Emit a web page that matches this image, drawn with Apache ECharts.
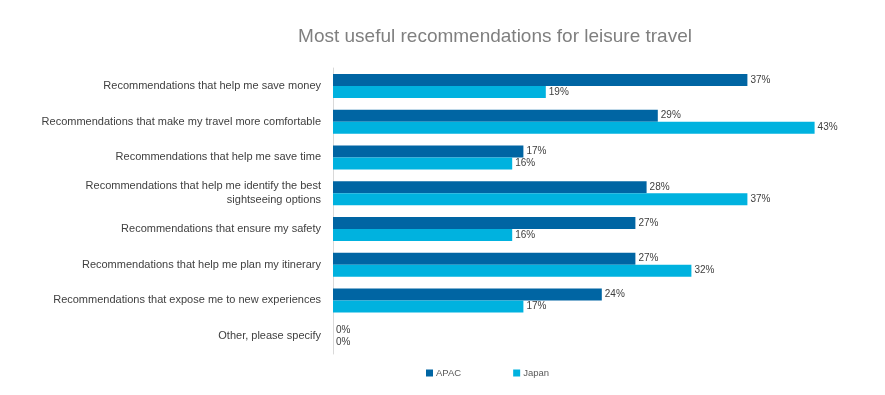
<!DOCTYPE html>
<html><head><meta charset="utf-8">
<script src="https://cdn.jsdelivr.net/npm/echarts@6/dist/echarts.min.js"></script>
<style>html,body{margin:0;padding:0;background:#fff}#c{width:885px;height:395px}</style>
</head><body><div id="c"></div>
<script>
const categories = [
  "Recommendations that help me save money",
  "Recommendations that make my travel more comfortable",
  "Recommendations that help me save time",
  "Recommendations that help me identify the best\nsightseeing options",
  "Recommendations that ensure my safety",
  "Recommendations that help me plan my itinerary",
  "Recommendations that expose me to new experiences",
  "Other, please specify"
];
const apac = [37, 29, 17, 28, 27, 27, 24, 0];
const japan = [19, 43, 16, 37, 16, 32, 17, 0];
const seriesNames = ["APAC", "Japan"];

const chart = echarts.init(document.getElementById('c'));
const lbl = {show: true, position: 'right', distance: 3, formatter: '{c}%', color: '#404040', fontSize: 10, fontFamily: 'Liberation Sans'};
chart.setOption({
  animation: false,
  title: {text: 'Most useful recommendations for leisure travel', left: 490, top: 22, textAlign: 'center',
    textStyle: {color: '#7f7f7f', fontSize: 19, fontWeight: 'normal', fontFamily: 'Liberation Sans'}},
  legend: {data: seriesNames, top: 363, left: 421, itemWidth: 7, itemHeight: 7, itemGap: 52, icon: 'rect',
    textStyle: {color: '#595959', fontSize: 9.5, fontFamily: 'Liberation Sans', padding: [0,0,0,-2]}},
  grid: {left: 333, top: 68, width: 504, height: 286, containLabel: false},
  xAxis: {type: 'value', min: 0, max: 45, show: false},
  yAxis: {type: 'category', data: categories, inverse: true,
    axisLine: {show: true, lineStyle: {color: '#d9d9d9', width: 1}},
    axisTick: {show: false},
    axisLabel: {color: '#404040', fontSize: 11, fontFamily: 'Liberation Sans', margin: 12, lineHeight: 14, align: 'right'}},
  series: [
    {name: seriesNames[0], type: 'bar', data: apac, barWidth: 12, barGap: '0%', itemStyle: {color: '#0065a3'}, label: lbl},
    {name: seriesNames[1], type: 'bar', data: japan, barWidth: 12, barGap: '0%', itemStyle: {color: '#00b2df'}, label: lbl}
  ]
});
</script></body></html>
